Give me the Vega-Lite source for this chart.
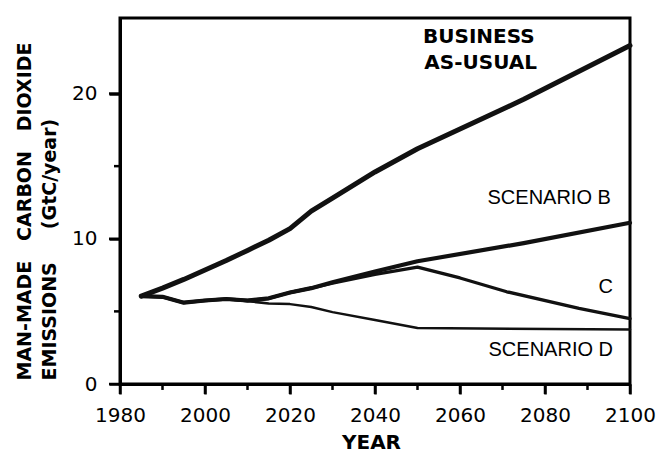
{
  "$schema": "https://vega.github.io/schema/vega-lite/v6.json",
  "width": 510,
  "height": 366,
  "autosize": {"type": "none"},
  "padding": {"left": 120, "top": 18, "right": 28, "bottom": 69},
  "background": "white",
  "config": {
    "view": {"stroke": "#000", "strokeWidth": 3},
    "axis": {
      "grid": false,
      "domainColor": "#000",
      "domainWidth": 3,
      "tickColor": "#000",
      "tickWidth": 2.5,
      "labelColor": "#000",
      "labelFont": "DejaVu Sans",
      "labelFontSize": 20,
      "labelOverlap": false,
      "labelFlush": false,
      "titleColor": "#000",
      "titleFont": "DejaVu Sans",
      "titleFontWeight": "bold"
    }
  },
  "datasets": {
    "series": [
      {"scenario": "BAU", "year": 1985, "value": 6.05},
      {"scenario": "BAU", "year": 1990, "value": 6.6},
      {"scenario": "BAU", "year": 1995, "value": 7.2},
      {"scenario": "BAU", "year": 2000, "value": 7.85},
      {"scenario": "BAU", "year": 2005, "value": 8.5},
      {"scenario": "BAU", "year": 2010, "value": 9.2},
      {"scenario": "BAU", "year": 2015, "value": 9.9},
      {"scenario": "BAU", "year": 2020, "value": 10.7},
      {"scenario": "BAU", "year": 2025, "value": 11.9},
      {"scenario": "BAU", "year": 2030, "value": 12.8},
      {"scenario": "BAU", "year": 2040, "value": 14.6},
      {"scenario": "BAU", "year": 2050, "value": 16.2},
      {"scenario": "BAU", "year": 2075, "value": 19.6},
      {"scenario": "BAU", "year": 2100, "value": 23.3},
      {"scenario": "B", "year": 1985, "value": 6.05},
      {"scenario": "B", "year": 1990, "value": 6.0},
      {"scenario": "B", "year": 1995, "value": 5.6},
      {"scenario": "B", "year": 2000, "value": 5.75},
      {"scenario": "B", "year": 2005, "value": 5.85},
      {"scenario": "B", "year": 2010, "value": 5.75},
      {"scenario": "B", "year": 2015, "value": 5.9},
      {"scenario": "B", "year": 2020, "value": 6.3},
      {"scenario": "B", "year": 2025, "value": 6.6},
      {"scenario": "B", "year": 2030, "value": 7.0},
      {"scenario": "B", "year": 2040, "value": 7.75},
      {"scenario": "B", "year": 2050, "value": 8.45},
      {"scenario": "B", "year": 2075, "value": 9.7},
      {"scenario": "B", "year": 2100, "value": 11.1},
      {"scenario": "C", "year": 1985, "value": 6.05},
      {"scenario": "C", "year": 1990, "value": 6.0},
      {"scenario": "C", "year": 1995, "value": 5.6},
      {"scenario": "C", "year": 2000, "value": 5.75},
      {"scenario": "C", "year": 2005, "value": 5.85},
      {"scenario": "C", "year": 2010, "value": 5.75},
      {"scenario": "C", "year": 2015, "value": 5.9},
      {"scenario": "C", "year": 2020, "value": 6.3},
      {"scenario": "C", "year": 2025, "value": 6.6},
      {"scenario": "C", "year": 2030, "value": 6.95},
      {"scenario": "C", "year": 2040, "value": 7.55},
      {"scenario": "C", "year": 2050, "value": 8.05},
      {"scenario": "C", "year": 2060, "value": 7.3},
      {"scenario": "C", "year": 2071, "value": 6.35},
      {"scenario": "C", "year": 2088, "value": 5.2},
      {"scenario": "C", "year": 2100, "value": 4.5},
      {"scenario": "D", "year": 1985, "value": 6.05},
      {"scenario": "D", "year": 1990, "value": 6.0},
      {"scenario": "D", "year": 1995, "value": 5.6},
      {"scenario": "D", "year": 2000, "value": 5.75},
      {"scenario": "D", "year": 2005, "value": 5.85},
      {"scenario": "D", "year": 2010, "value": 5.7},
      {"scenario": "D", "year": 2015, "value": 5.55},
      {"scenario": "D", "year": 2020, "value": 5.5},
      {"scenario": "D", "year": 2025, "value": 5.3},
      {"scenario": "D", "year": 2030, "value": 4.95},
      {"scenario": "D", "year": 2040, "value": 4.4},
      {"scenario": "D", "year": 2050, "value": 3.85},
      {"scenario": "D", "year": 2100, "value": 3.75}
    ],
    "bauLabels": [
      {"label": "BUSINESS", "year": 2051.3, "value": 23.48},
      {"label": "AS-USUAL", "year": 2051.6, "value": 21.69}
    ],
    "scenLabels": [
      {"label": "SCENARIO B", "year": 2095.5, "value": 12.39},
      {"label": "C", "year": 2096.0, "value": 6.27},
      {"label": "SCENARIO D", "year": 2096.0, "value": 1.93}
    ],
    "xMajor": [{"year": 1980}, {"year": 2000}, {"year": 2020}, {"year": 2040}, {"year": 2060}, {"year": 2080}, {"year": 2100}],
    "xMinor": [{"year": 1990}, {"year": 2010}, {"year": 2030}, {"year": 2050}, {"year": 2070}, {"year": 2090}],
    "yMajor": [{"value": 0}, {"value": 10}, {"value": 20}],
    "yMinor": [{"value": 5}, {"value": 15}]
  },
  "layer": [
    {
      "data": {"name": "series"},
      "mark": {"type": "line", "color": "#111", "strokeJoin": "round", "strokeCap": "round"},
      "encoding": {
        "x": {
          "field": "year",
          "type": "quantitative",
          "scale": {"domain": [1980, 2100], "nice": false, "zero": false},
          "axis": {
            "orient": "bottom",
            "values": [1980, 2000, 2020, 2040, 2060, 2080, 2100],
            "format": "d",
            "tickSize": 10,
            "labelPadding": 11,
            "title": "YEAR",
            "titleFontSize": 20,
            "titleX": 251,
            "titleY": 64,
            "titleBaseline": "alphabetic"
          }
        },
        "y": {
          "field": "value",
          "type": "quantitative",
          "scale": {"domain": [0, 25.2], "nice": false, "zero": false},
          "axis": {
            "orient": "left",
            "values": [0, 10, 20],
            "format": "d",
            "tickSize": 11,
            "labelPadding": 12,
            "title": ["MAN-MADE\u00a0\u00a0\u00a0CARBON\u00a0\u00a0\u00a0DIOXIDE", "EMISSIONS\u00a0\u00a0\u00a0\u00a0\u00a0(GtC/year)"],
            "titleFontSize": 19,
            "titleLineHeight": 25,
            "titleAngle": 270,
            "titleAlign": "left",
            "titleBaseline": "alphabetic",
            "titleX": -90,
            "titleY": 362
          }
        },
        "detail": {"field": "scenario"},
        "strokeWidth": {
          "field": "scenario",
          "type": "nominal",
          "scale": {"domain": ["BAU", "B", "C", "D"], "range": [5, 2.5, 2.5, 2.5]},
          "legend": null
        }
      }
    },
    {
      "data": {"name": "xMajor"},
      "mark": {"type": "rule", "color": "#000", "strokeWidth": 2.5},
      "encoding": {
        "x": {"field": "year", "type": "quantitative"},
        "y": {"datum": 0, "type": "quantitative"},
        "y2": {"datum": -0.69}
      }
    },
    {
      "data": {"name": "xMinor"},
      "mark": {"type": "rule", "color": "#000", "strokeWidth": 2.5},
      "encoding": {
        "x": {"field": "year", "type": "quantitative"},
        "y": {"datum": 0, "type": "quantitative"},
        "y2": {"datum": -0.41}
      }
    },
    {
      "data": {"name": "yMajor"},
      "mark": {"type": "rule", "color": "#000", "strokeWidth": 2.5},
      "encoding": {
        "y": {"field": "value", "type": "quantitative"},
        "x": {"datum": 1980, "type": "quantitative"},
        "x2": {"datum": 1977.41}
      }
    },
    {
      "data": {"name": "yMinor"},
      "mark": {"type": "rule", "color": "#000", "strokeWidth": 2.5},
      "encoding": {
        "y": {"field": "value", "type": "quantitative"},
        "x": {"datum": 1980, "type": "quantitative"},
        "x2": {"datum": 1978.59}
      }
    },
    {
      "data": {"name": "bauLabels"},
      "mark": {"type": "text", "align": "left", "baseline": "alphabetic", "font": "DejaVu Sans", "fontWeight": "bold", "fontSize": 20, "color": "#000"},
      "encoding": {
        "x": {"field": "year", "type": "quantitative"},
        "y": {"field": "value", "type": "quantitative"},
        "text": {"field": "label"}
      }
    },
    {
      "data": {"name": "scenLabels"},
      "mark": {"type": "text", "align": "right", "baseline": "alphabetic", "font": "Liberation Sans", "fontSize": 20, "color": "#000"},
      "encoding": {
        "x": {"field": "year", "type": "quantitative"},
        "y": {"field": "value", "type": "quantitative"},
        "text": {"field": "label"}
      }
    }
  ]
}
